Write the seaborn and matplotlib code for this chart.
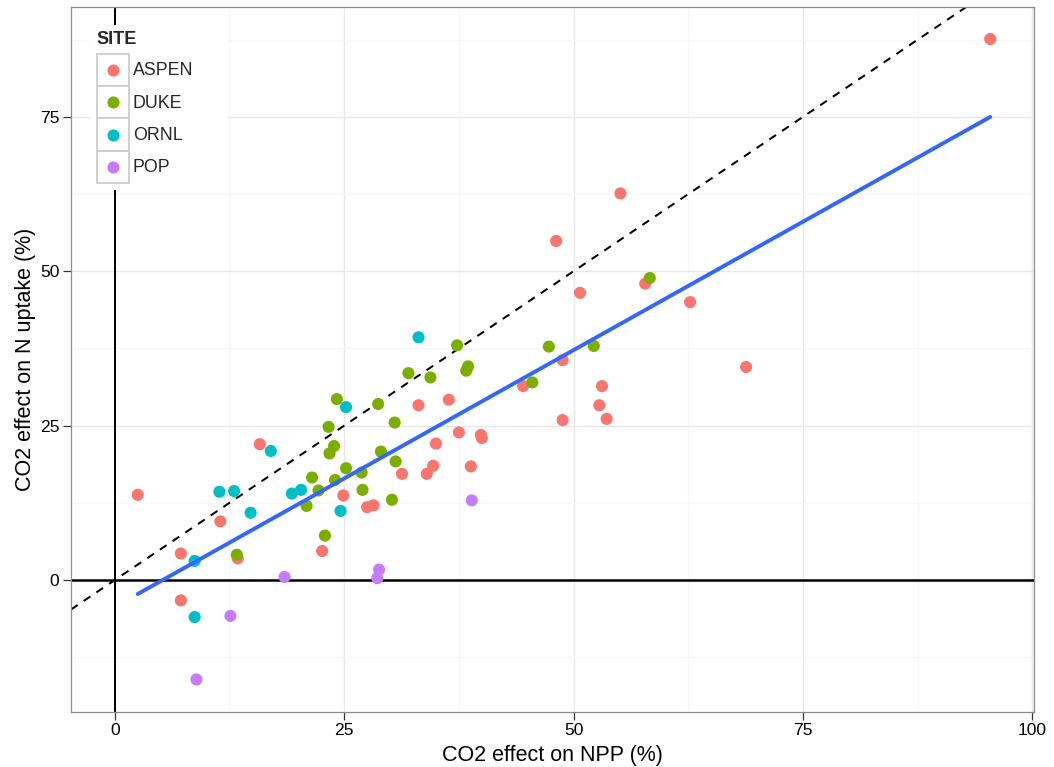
import numpy as np
import pandas as pd
import matplotlib
matplotlib.use("Agg")
import matplotlib.pyplot as plt
from matplotlib.patches import Rectangle
from matplotlib.lines import Line2D
from matplotlib.legend_handler import HandlerBase
import seaborn as sns

# ---------------- data ----------------
sites = ["ASPEN", "DUKE", "ORNL", "POP"]
site_colors = ["#F8766D", "#7CAE00", "#00BFC4", "#C77CFF"]

aspen_npp = [2.5, 7.2, 7.2, 11.5, 13.4, 15.8, 22.6, 24.9, 27.5, 28.2, 31.3, 33.1,
             34.0, 34.7, 35.0, 36.4, 37.5, 38.8, 39.9, 40.0, 44.5, 48.1, 48.8, 48.8,
             50.7, 52.8, 53.1, 53.6, 55.1, 57.8, 62.7, 68.8, 95.4]
aspen_n = [13.8, 4.3, -3.3, 9.5, 3.5, 22.0, 4.7, 13.7, 11.8, 12.1, 17.2, 28.3,
           17.2, 18.5, 22.1, 29.2, 23.9, 18.4, 23.5, 23.0, 31.4, 54.9, 35.6, 25.9,
           46.5, 28.3, 31.4, 26.1, 62.6, 48.0, 45.0, 34.5, 87.6]

duke_npp = [13.3, 20.9, 21.5, 22.2, 22.9, 23.3, 23.4, 23.9, 24.0, 24.2, 25.2, 26.9,
            27.0, 28.7, 29.0, 30.2, 30.5, 30.6, 32.0, 34.4, 37.3, 38.3, 38.5, 45.5,
            47.3, 52.2, 58.3]
duke_n = [4.1, 12.0, 16.6, 14.5, 7.2, 24.8, 20.5, 21.7, 16.2, 29.3, 18.1, 17.4,
          14.6, 28.5, 20.8, 13.0, 25.5, 19.2, 33.5, 32.8, 38.0, 33.9, 34.6, 32.0,
          37.8, 37.9, 48.9]

ornl_npp = [8.7, 8.7, 11.4, 13.0, 14.8, 17.0, 19.3, 20.3, 24.6, 25.2, 33.1]
ornl_n = [3.1, -6.0, 14.3, 14.4, 10.9, 20.9, 14.0, 14.6, 11.2, 28.0, 39.3]

pop_npp = [8.9, 12.6, 18.5, 28.6, 28.8, 38.9]
pop_n = [-16.1, -5.8, 0.5, 0.3, 1.7, 12.9]

x_ticks = [0, 25, 50, 75, 100]
y_ticks = [0, 25, 50, 75]
x_label = "CO2 effect on NPP (%)"
y_label = "CO2 effect on N uptake (%)"
legend_title = "SITE"

# ---------------- build frame ----------------
df = pd.concat([
    pd.DataFrame({"npp": aspen_npp, "nup": aspen_n, "SITE": "ASPEN"}),
    pd.DataFrame({"npp": duke_npp, "nup": duke_n, "SITE": "DUKE"}),
    pd.DataFrame({"npp": ornl_npp, "nup": ornl_n, "SITE": "ORNL"}),
    pd.DataFrame({"npp": pop_npp, "nup": pop_n, "SITE": "POP"}),
], ignore_index=True)

sns.set_theme(style="white")
plt.rcParams["font.family"] = ["Liberation Sans", "DejaVu Sans"]

W, H = 1054, 767
fig = plt.figure(figsize=(W / 100, H / 100), dpi=100)
ax = fig.add_axes([71 / W, 1 - 711.5 / H, (1034 - 71) / W, (711.5 - 7) / H])
ax.set_facecolor("white")

# ggplot-like limits (data + reference lines, expanded by 5%)
xmin, xmax = min(0, df.npp.min()), max(0, df.npp.max())
ymin, ymax = min(0, df.nup.min()), max(0, df.nup.max())
xe, ye = 0.05 * (xmax - xmin), 0.05 * (ymax - ymin)

# grid
ax.set_xticks(x_ticks)
ax.set_yticks(y_ticks)
ax.set_xticks([12.5, 37.5, 62.5, 87.5], minor=True)
ax.set_yticks([-12.5, 12.5, 37.5, 62.5, 87.5], minor=True)
ax.grid(True, which="major", color="#E8E8E8", lw=1.0, zorder=0)
ax.grid(True, which="minor", color="#F7F7F7", lw=1.0, zorder=0)
ax.set_axisbelow(True)

# reference lines
ax.axhline(0, color="black", lw=1.8, zorder=1)
ax.axvline(0, color="black", lw=1.4, zorder=1)
ax.axline((0, 0), slope=1, color="black", lw=1.45, ls=(0, (4, 3.6)), zorder=1)

# points
sns.scatterplot(data=df, x="npp", y="nup", hue="SITE", hue_order=sites,
                palette=site_colors, s=76, linewidth=0, ax=ax, legend=False, zorder=3)

# linear fit over all points
sns.regplot(data=df, x="npp", y="nup", scatter=False, ci=None, ax=ax,
            color="#3366FF", line_kws=dict(lw=2.8, zorder=4), truncate=True)

ax.set_xlim(xmin - xe, xmax + xe)
ax.set_ylim(ymin - ye, ymax + ye)

# axes styling
for sp in ax.spines.values():
    sp.set_color("#8C8C8C")
    sp.set_linewidth(0.9)
ax.tick_params(axis="both", which="major", direction="out", length=5.5, width=0.9,
               color="#333333", pad=3, labelsize=12.6, labelcolor="black",
               bottom=True, left=True)
ax.tick_params(axis="both", which="minor", length=0)
ax.set_xticklabels([str(t) for t in x_ticks])
ax.set_yticklabels([str(t) for t in y_ticks])
ax.set_xlabel(x_label, fontsize=15.5, color="black", labelpad=4.5)
ax.set_ylabel(y_label, fontsize=15.5, color="black", labelpad=3)


# legend styled like ggplot keys (grey-bordered boxes with a centered dot)
class KeyHandler(HandlerBase):
    def create_artists(self, legend, orig_handle, xdescent, ydescent, width, height,
                       fontsize, trans):
        rect = Rectangle((-xdescent, -ydescent), width, height, facecolor="white",
                         edgecolor="#CCCCCC", lw=1.3, transform=trans)
        dot = Line2D([-xdescent + width / 2], [-ydescent + height / 2], ls="none",
                     marker="o", markersize=8.7, markeredgewidth=0,
                     markerfacecolor=orig_handle.get_markerfacecolor(), transform=trans)
        return [rect, dot]


# white legend background (hides grid and the x=0 line behind the legend)
ax.add_patch(Rectangle((90 / W, 1 - 190 / H), (227 - 90) / W, (190 - 25) / H,
                       transform=fig.transFigure, facecolor="white", edgecolor="none",
                       zorder=4.5, clip_on=False))

fs = 12.8
fs_px = fs * 100 / 72
key_px = 32.4
hh = (key_px / fs_px - 0.245) / 0.65
handles = [Line2D([], [], ls="none", marker="o", markerfacecolor=c) for c in site_colors]
leg = ax.legend(handles, sites, title=legend_title, loc="upper left",
                bbox_to_anchor=(96.5 / W, 1 - 31 / H), bbox_transform=fig.transFigure,
                handler_map={Line2D: KeyHandler()},
                frameon=False, fontsize=fs, title_fontproperties={"weight": "bold", "size": 13},
                handlelength=key_px / fs_px, handleheight=hh,
                handletextpad=0.22, labelspacing=0.0, borderpad=0.0,
                borderaxespad=0.0, alignment="left")
leg.set_zorder(6)
leg._legend_box.sep = 4

fig.savefig("out.png", dpi=100, facecolor="white")
